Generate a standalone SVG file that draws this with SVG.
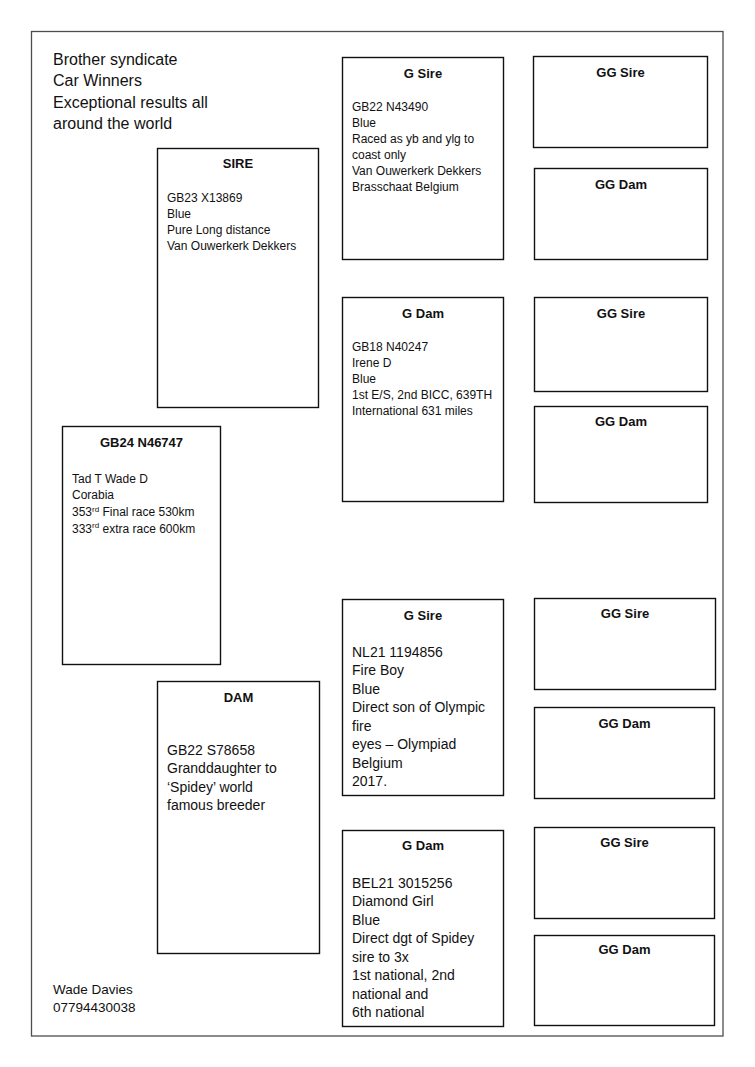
<svg xmlns="http://www.w3.org/2000/svg" width="755" height="1067" viewBox="0 0 755 1067">
<style>
.frame{fill:none;stroke:#4d4d4d;stroke-width:1.3}
.box{fill:#fff;stroke:#111;stroke-width:1.4}
text{font-family:"Liberation Sans",Arial,sans-serif;fill:#111}
.h{font-weight:bold;font-size:13px;text-anchor:middle}
.s{font-size:12px}
.m{font-size:14px}
.t{font-size:16px}
.f{font-size:13.5px}
</style>
<rect width="755" height="1067" fill="#fff"/>
<rect class="frame" x="31.5" y="31.5" width="691.5" height="1004.5"/>
<g id="title">
<text class="t" x="53" y="64.5">Brother syndicate</text>
<text class="t" x="53" y="86">Car Winners</text>
<text class="t" x="53" y="107.5">Exceptional results all</text>
<text class="t" x="53" y="129">around the world</text>
</g>
<g id="contact">
<text class="f" x="53" y="993.5">Wade Davies</text>
<text class="f" x="53" y="1012">07794430038</text>
</g>
<g id="connectors"></g>
<g id="subject">
<rect class="box" x="62.5" y="426.5" width="158" height="238"/>
<text class="h" x="141.5" y="446.5">GB24 N46747</text>
<text class="s" x="72" y="482.5">Tad T Wade D</text>
<text class="s" x="72" y="499">Corabia</text>
<text class="s" x="72" y="516">353<tspan font-size="8" dy="-4.5">rd</tspan><tspan dy="4.5"> Final race 530km</tspan></text>
<text class="s" x="72" y="532.5">333<tspan font-size="8" dy="-4.5">rd</tspan><tspan dy="4.5"> extra race 600km</tspan></text>
</g>
<g id="sire">
<rect class="box" x="157.5" y="148.5" width="161" height="259"/>
<text class="h" x="238" y="168">SIRE</text>
<text class="s" x="167" y="201.5">GB23 X13869</text>
<text class="s" x="167" y="217.5">Blue</text>
<text class="s" x="167" y="233.5">Pure Long distance</text>
<text class="s" x="167" y="249.5">Van Ouwerkerk Dekkers</text>
</g>
<g id="dam">
<rect class="box" x="157.5" y="681.5" width="162" height="272"/>
<text class="h" x="238.5" y="701.5">DAM</text>
<text class="m" x="167" y="754.5">GB22 S78658</text>
<text class="m" x="167" y="773">Granddaughter to</text>
<text class="m" x="167" y="791.5">‘Spidey’ world</text>
<text class="m" x="167" y="810">famous breeder</text>
</g>
<g id="g-sire-1">
<rect class="box" x="342.5" y="57.5" width="161" height="202"/>
<text class="h" x="423" y="77.5">G Sire</text>
<text class="s" x="352" y="110.5">GB22 N43490</text>
<text class="s" x="352" y="126.5">Blue</text>
<text class="s" x="352" y="142.5">Raced as yb and ylg to</text>
<text class="s" x="352" y="158.5">coast only</text>
<text class="s" x="352" y="174.5">Van Ouwerkerk Dekkers</text>
<text class="s" x="352" y="190.5">Brasschaat Belgium</text>
</g>
<g id="g-dam-1">
<rect class="box" x="342.5" y="297.5" width="161" height="204"/>
<text class="h" x="423" y="317.5">G Dam</text>
<text class="s" x="352" y="350.5">GB18 N40247</text>
<text class="s" x="352" y="366.5">Irene D</text>
<text class="s" x="352" y="382.5">Blue</text>
<text class="s" x="352" y="398.5">1st E/S, 2nd BICC, 639TH</text>
<text class="s" x="352" y="414.5">International 631 miles</text>
</g>
<g id="g-sire-2">
<rect class="box" x="342.5" y="599.5" width="161" height="196"/>
<text class="h" x="423" y="619.5">G Sire</text>
<text class="m" x="352" y="656.5">NL21 1194856</text>
<text class="m" x="352" y="675">Fire Boy</text>
<text class="m" x="352" y="693.5">Blue</text>
<text class="m" x="352" y="712">Direct son of Olympic</text>
<text class="m" x="352" y="730.5">fire</text>
<text class="m" x="352" y="749">eyes – Olympiad</text>
<text class="m" x="352" y="767.5">Belgium</text>
<text class="m" x="352" y="786">2017.</text>
</g>
<g id="g-dam-2">
<rect class="box" x="342.5" y="830.5" width="161" height="196"/>
<text class="h" x="423" y="850">G Dam</text>
<text class="m" x="352" y="887.5">BEL21 3015256</text>
<text class="m" x="352" y="906">Diamond Girl</text>
<text class="m" x="352" y="924.5">Blue</text>
<text class="m" x="352" y="943">Direct dgt of Spidey</text>
<text class="m" x="352" y="961.5">sire to 3x</text>
<text class="m" x="352" y="980">1st national, 2nd</text>
<text class="m" x="352" y="998.5">national and</text>
<text class="m" x="352" y="1017">6th national</text>
</g>
<g id="gg-sire-1">
<rect class="box" x="533.5" y="56.5" width="174" height="91"/>
<text class="h" x="620.5" y="76.5">GG Sire</text>
</g>
<g id="gg-dam-1">
<rect class="box" x="534.5" y="168.5" width="173" height="91"/>
<text class="h" x="621" y="188.5">GG Dam</text>
</g>
<g id="gg-sire-2">
<rect class="box" x="534.5" y="297.5" width="173" height="94"/>
<text class="h" x="621" y="317.5">GG Sire</text>
</g>
<g id="gg-dam-2">
<rect class="box" x="534.5" y="406.5" width="173" height="96"/>
<text class="h" x="621" y="425.5">GG Dam</text>
</g>
<g id="gg-sire-3">
<rect class="box" x="534.5" y="598.5" width="181" height="91"/>
<text class="h" x="625" y="618">GG Sire</text>
</g>
<g id="gg-dam-3">
<rect class="box" x="534.5" y="707.5" width="180" height="91"/>
<text class="h" x="624.5" y="727.5">GG Dam</text>
</g>
<g id="gg-sire-4">
<rect class="box" x="534.5" y="827.5" width="180" height="91"/>
<text class="h" x="624.5" y="847">GG Sire</text>
</g>
<g id="gg-dam-4">
<rect class="box" x="534.5" y="935.5" width="180" height="90"/>
<text class="h" x="624.5" y="954">GG Dam</text>
</g>
</svg>
